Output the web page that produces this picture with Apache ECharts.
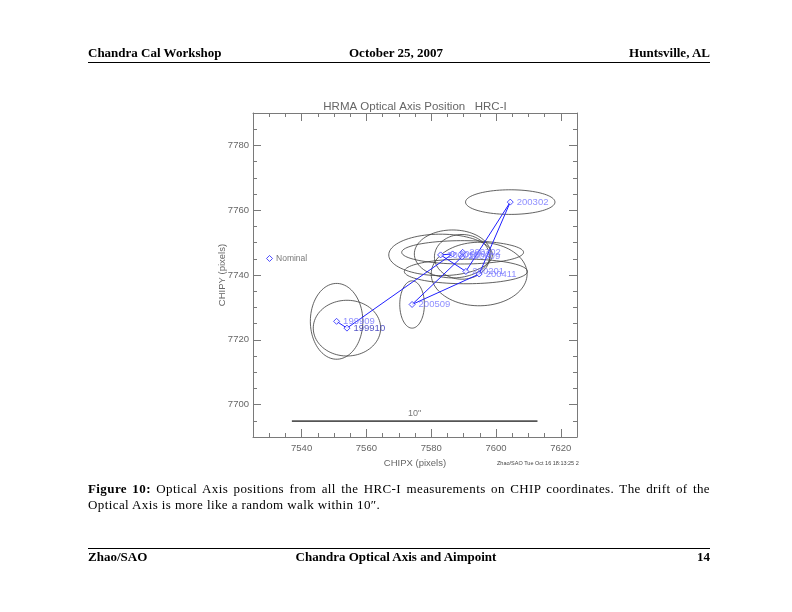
<!DOCTYPE html>
<html>
<head>
<meta charset="utf-8">
<script src="https://cdn.jsdelivr.net/npm/echarts@6/dist/echarts.min.js"></script>
<style>
  html, body { margin: 0; padding: 0; background: #fff; }
  #page { position: relative; width: 792px; height: 612px; overflow: hidden; }
  #chart { position: absolute; left: 0; top: 0; width: 792px; height: 612px; }
  .t { position: absolute; font-family: 'Liberation Serif', 'DejaVu Serif', serif; font-size: 13px; color: #000; white-space: nowrap; }
  .b { font-weight: bold; }
  .cap { letter-spacing: 0.4px; }
  .rule { position: absolute; left: 88px; width: 622px; height: 1px; background: #000; }
</style>
</head>
<body>
<div id="page">
  <div id="chart"></div>
  <div class="t b" style="left:88px; top:45px;">Chandra Cal Workshop</div>
  <div class="t b" style="left:0; width:792px; text-align:center; top:45px;">October 25, 2007</div>
  <div class="t b" style="right:82px; top:45px;">Huntsville, AL</div>
  <div class="rule" style="top:62px;"></div>

  <div class="t cap" style="left:88px; width:622px; top:481px; text-align:justify; text-align-last:justify; white-space:normal;"><span class="b">Figure 10:</span> Optical Axis positions from all the HRC-I measurements on CHIP coordinates. The drift of the</div>
  <div class="t cap" style="left:88px; top:497px;">Optical Axis is more like a random walk within 10″.</div>

  <div class="rule" style="top:548px;"></div>
  <div class="t b" style="left:88px; top:549px;">Zhao/SAO</div>
  <div class="t b" style="left:0; width:792px; text-align:center; top:549px;">Chandra Optical Axis and Aimpoint</div>
  <div class="t b" style="right:82px; top:549px;">14</div>
</div>
<script>
// measurement epochs, in time order (the blue track follows this order)
const epochs = ['199909', '199910', '200002', '200012', '200201', '200302', '200411', '200509', '200609', '200702'];
const chipx = [7550.8, 7554.0, 7586.6, 7582.9, 7590.7, 7604.4, 7594.8, 7574.1, 7589.5, 7589.7];
const chipy = [7725.7, 7723.6, 7746.5, 7746.2, 7741.1, 7762.5, 7740.3, 7730.9, 7745.6, 7747.0];
// error ellipse half axes (pixels)
const errx = [8.1, 10.4, 11.8, 16.0, 19.0, 13.8, 14.8, 3.8, 8.5, 18.8];
const erry = [11.7, 8.6, 7.4, 6.4, 3.8, 3.8, 9.8, 7.3, 6.9, 3.6];

const nominal = [7530.1, 7745.1];
const scaleBarX = [7537, 7612.8];
const scaleBarY = 7694.9;

const xMajor = [7540, 7560, 7580, 7600, 7620];
const yMajor = [7700, 7720, 7740, 7760, 7780];
const xMinor = [];
for (let v = 7530; v <= 7620; v += 5) if (v % 20 !== 0) xMinor.push(v);
const yMinor = [];
for (let v = 7695; v <= 7785; v += 5) if (v % 20 !== 0) yMinor.push(v);

const axisColor = '#7a7a7a';
const txtColor = '#666';
const font = 'Liberation Sans';

function mkAxis(pos, majors, minors, min, max, extra) {
  const base = {
    type: 'value', position: pos, min: min, max: max,
    splitLine: {show: false},
    axisLine: {show: true, lineStyle: {color: axisColor, width: 1}},
  };
  const major = Object.assign({}, base, {
    axisTick: {show: true, inside: true, length: 8, customValues: majors, lineStyle: {color: axisColor}},
    axisLabel: {show: false}
  }, extra || {});
  const minor = Object.assign({}, base, {
    axisLine: {show: false},
    axisTick: {show: true, inside: true, length: 4, customValues: minors, lineStyle: {color: axisColor}},
    axisLabel: {show: false}
  });
  return [major, minor];
}

const xAxes = [
  ...mkAxis('bottom', xMajor, xMinor, 7525, 7625, {
    name: 'CHIPX (pixels)', nameLocation: 'middle', nameGap: 14,
    nameTextStyle: {color: txtColor, fontSize: 9.5, fontFamily: font},
    axisLabel: {show: true, customValues: xMajor, formatter: v => String(v), color: txtColor, fontSize: 9.5, fontFamily: font, margin: 6}
  }),
  ...mkAxis('top', xMajor, xMinor, 7525, 7625)
];
const yAxes = [
  ...mkAxis('left', yMajor, yMinor, 7690, 7790, {
    name: 'CHIPY (pixels)', nameLocation: 'middle', nameGap: 26, nameRotate: 90, nameMoveOverlap: false,
    nameTextStyle: {color: txtColor, fontSize: 9.5, fontFamily: font},
    axisLabel: {show: true, customValues: yMajor, formatter: v => String(v), color: txtColor, fontSize: 9.5, fontFamily: font, margin: 4}
  }),
  ...mkAxis('right', yMajor, yMinor, 7690, 7790)
];

const points = epochs.map((e, i) => ({
  name: e, value: [chipx[i], chipy[i]],
  label: e === '199910' ? {color: '#2a2ab8'} : undefined
}));
const ellipses = epochs.map((e, i) => [chipx[i], chipy[i], errx[i], erry[i]]);

const myChart = echarts.init(document.getElementById('chart'), null, {renderer: 'canvas'});
myChart.setOption({
  animation: false,
  backgroundColor: 'transparent',
  title: {
    text: 'HRMA Optical Axis Position   HRC-I',
    left: 410, top: 96, textAlign: 'center',
    textStyle: {color: txtColor, fontSize: 11.5, fontWeight: 'normal', fontFamily: font}
  },
  grid: {left: 253, top: 113, width: 324, height: 324, containLabel: false},
  xAxis: xAxes,
  yAxis: yAxes,
  graphic: [{
    type: 'text', left: 497, top: 460,
    style: {text: 'Zhao/SAO Tue Oct 16 18:13:25 2', fill: '#444', fontSize: 5.5, fontFamily: font}
  }],
  series: [
    {
      type: 'custom',
      data: ellipses,
      xAxisIndex: 0, yAxisIndex: 0,
      z: 2,
      renderItem(params, api) {
        const cx = api.value(0), cy = api.value(1), rx = api.value(2), ry = api.value(3);
        const pts = [];
        for (let k = 0; k < 90; k++) {
          const a = k / 90 * Math.PI * 2;
          pts.push(api.coord([cx + rx * Math.cos(a), cy + ry * Math.sin(a)]));
        }
        return {type: 'polygon', shape: {points: pts}, style: {fill: 'none', stroke: '#3a3a3a', lineWidth: 0.8}};
      }
    },
    {
      type: 'line',
      data: points.map(p => p.value),
      showSymbol: false,
      lineStyle: {color: '#1f1fff', width: 1},
      z: 3
    },
    {
      type: 'scatter',
      data: points,
      symbol: 'diamond',
      symbolSize: 6,
      itemStyle: {color: '#fff', borderColor: '#2020ff', borderWidth: 1},
      label: {
        show: true, position: 'right', distance: 3,
        formatter: p => p.name,
        color: '#7272ff', fontSize: 9.5, fontFamily: font
      },
      z: 4
    },
    {
      type: 'scatter',
      data: [{name: 'Nominal', value: nominal}],
      symbol: 'diamond',
      symbolSize: 6,
      itemStyle: {color: '#fff', borderColor: '#2020ff', borderWidth: 1},
      label: {show: true, position: 'right', distance: 3, formatter: 'Nominal', color: '#555', fontSize: 8.5, fontFamily: font},
      z: 4
    },
    {
      type: 'line',
      data: [[scaleBarX[0], scaleBarY], [scaleBarX[1], scaleBarY]],
      showSymbol: false,
      lineStyle: {color: '#555', width: 1.6},
      z: 3
    },
    {
      type: 'scatter',
      data: [[(scaleBarX[0] + scaleBarX[1]) / 2, scaleBarY]],
      symbol: 'circle',
      symbolSize: 1,
      itemStyle: {color: 'rgba(0,0,0,0)'},
      label: {show: true, position: 'top', distance: 3, formatter: '10"', color: '#555', fontSize: 9, fontFamily: font},
      z: 3
    }
  ]
});
</script>
</body>
</html>
